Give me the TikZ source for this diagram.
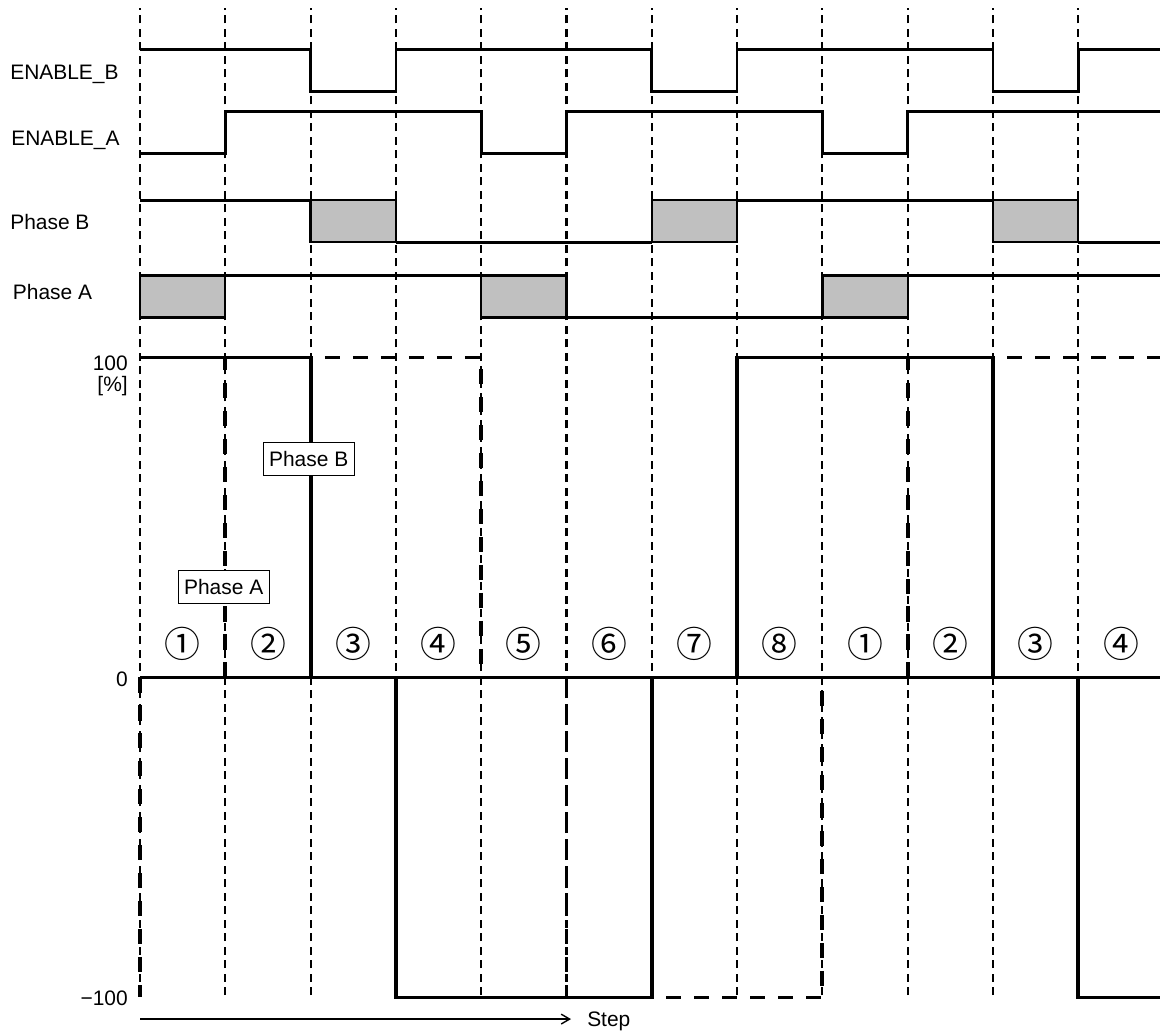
\documentclass[tikz,border=0pt]{standalone}
\usepackage{fontspec}
\setmainfont{Liberation Sans}
\newfontfamily\circfont{Noto Sans CJK JP}
\usepackage{tikz}
\usetikzlibrary{arrows.meta,positioning,calc}
\definecolor{boxgray}{RGB}{192,192,192}
\tikzset{
  gridln/.style={dash pattern=on 5.7pt off 3.9pt, line width=1.45pt},
  sigln/.style={line width=1.9pt, line join=miter},
  offbox/.style={fill=boxgray, draw=black, line width=1.6pt},
  curln/.style={line width=2.8pt, line join=miter},
  curdash/.style={curln, dash pattern=on 10.7pt off 9.2pt},
  rowlbl/.style={anchor=base west, inner sep=0pt, font=\fontsize{14.9}{18}\selectfont},
  axlbl/.style={anchor=base east, inner sep=0pt, font=\fontsize{14.9}{18}\selectfont},
  tagbox/.style={draw, fill=white, line width=0.7pt, inner xsep=4.3pt, inner ysep=0pt,
    minimum height=0.82cm, font=\fontsize{14.9}{18}\selectfont},
  stepnum/.style={inner sep=0pt, font=\circfont\fontsize{25.5}{28}\selectfont},
}
% levels of the four logic rows (low, high)
\def\ebL{14.65}\def\ebH{15.7}
\def\eaL{13.1}\def\eaH{14.15}
\def\pbL{10.88}\def\pbH{11.93}
\def\paL{9.0}\def\paH{10.05}
\def\xend{11.958}

\begin{document}
\begin{tikzpicture}[x=2.1325cm, y=1cm]
  \useasboundingbox (-1.6413,-8.9375) rectangle (11.958,16.9375);
  % step grid
  \foreach \i in {0,...,11}
    \draw[gridln] (\i,-7.94) -- (\i,16.74);
  % row labels
  \node[rowlbl] (lEB) at (-1.524,14.94) {ENABLE\_B};
  \node[rowlbl] (lEA) at (-1.512,13.31) {ENABLE\_A};
  \node[rowlbl] (lPB) at (-1.524,11.19) {Phase B};
  \node[rowlbl] (lPA) at (-1.493,9.44) {Phase A};
  % ENABLE_B
  \draw[sigln] (0,\ebH) -- (2,\ebH) -- (2,\ebL) -- (3,\ebL) -- (3,\ebH) -- (6,\ebH)
    -- (6,\ebL) -- (7,\ebL) -- (7,\ebH) -- (10,\ebH) -- (10,\ebL) -- (11,\ebL)
    -- (11,\ebH) -- (\xend,\ebH);
  % ENABLE_A
  \draw[sigln] (0,\eaL) -- (1,\eaL) -- (1,\eaH) -- (4,\eaH) -- (4,\eaL) -- (5,\eaL)
    -- (5,\eaH) -- (8,\eaH) -- (8,\eaL) -- (9,\eaL) -- (9,\eaH) -- (\xend,\eaH);
  % Phase B
  \draw[sigln] (0,\pbH) -- (2,\pbH);
  \draw[sigln] (3,\pbL) -- (6,\pbL);
  \draw[sigln] (7,\pbH) -- (10,\pbH);
  \draw[sigln] (11,\pbL) -- (\xend,\pbL);
  \foreach \i in {2,6,10}
    \draw[offbox] (\i,\pbL) rectangle (\i+1,\pbH);
  % Phase A
  \draw[sigln] (1,\paH) -- (4,\paH);
  \draw[sigln] (5,\paL) -- (8,\paL);
  \draw[sigln] (9,\paH) -- (\xend,\paH);
  \foreach \i in {0,4,8}
    \draw[offbox] (\i,\paL) rectangle (\i+1,\paH);
  % current of phase A (dashed)
  \draw[curdash] (0,0) -- (0,-8);
  \draw[curdash] (1,0) -- (1,8) -- (4,8) -- (4,0);
  \draw[curdash] (5,0) -- (5,-8) -- (8,-8) -- (8,0);
  \draw[curdash] (9,0) -- (9,8) -- (\xend,8);
  % current of phase B (solid)
  \draw[curln] (0,8) -- (2,8) -- (2,0);
  \draw[curln] (3,0) -- (3,-8) -- (6,-8) -- (6,0);
  \draw[curln] (7,0) -- (7,8) -- (10,8) -- (10,0);
  \draw[curln] (11,0) -- (11,-8) -- (\xend,-8);
  % zero line
  \draw[curln] (0,0) -- (\xend,0);
  % axis values
  \node[axlbl] (v100) at (-0.1407,7.67) {100};
  \node[axlbl] (vunit) at (-0.1407,7.14) {[\%]};
  \node[axlbl] (v0) at (-0.1407,-0.23) {0};
  \node[axlbl] (vm100) at (-0.1407,-8.21) {−100};
  % phase tags
  \node[tagbox] (tagA) at (0.981,2.26) {Phase A};
  \node[tagbox] (tagB) at (1.978,5.46) {Phase B};
  % step numbers
  \foreach \lbl [count=\k from 0] in {①,②,③,④,⑤,⑥,⑦,⑧,①,②,③,④}
    \node[stepnum] (n\k) at (\k+0.5,0.84) {\lbl};
  % step arrow
  \coordinate (sA) at (0,-8.54);
  \coordinate (sB) at (5.053,-8.54);
  \draw[line width=1pt, -{Straight Barb[length=6pt,width=7pt]}] (sA) -- (sB);
  \node[rowlbl] (lStep) at (5.24,-8.73) {Step};
\end{tikzpicture}
\end{document}
